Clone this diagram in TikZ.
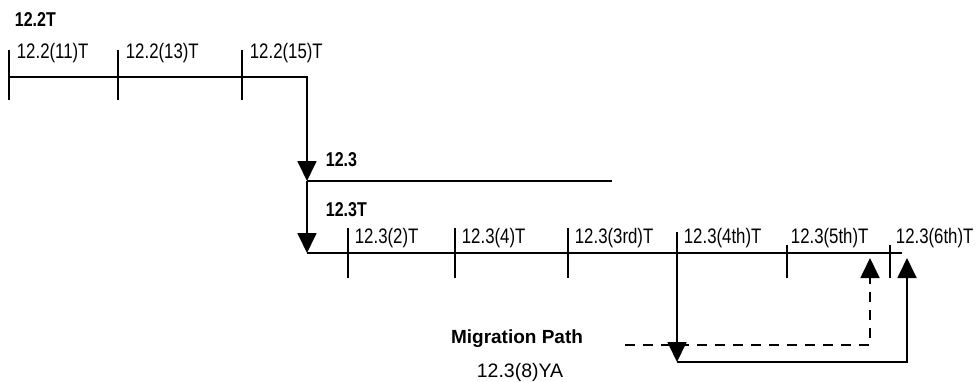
\documentclass[tikz,border=0pt]{standalone}
\usepackage{fontspec}
\setmainfont{Liberation Sans}[FakeStretch=0.8]
\newfontfamily\plainsans{Liberation Sans}
\usetikzlibrary{arrows.meta}
\tikzset{
	every release/.style={
		inner sep=0pt,
		anchor=base west,
		font=\fontsize{21}{24}\selectfont
	},
	every train/.style={
		inner sep=0pt,
		anchor=base west,
		font=\bfseries\fontsize{20}{24}\selectfont
	},
	path note/.style={
		inner sep=0pt,
		anchor=base,
		font=\plainsans\fontsize{19.5}{22}\selectfont
	},
}

\begin{document}
\begin{tikzpicture}[x=1pt, y=-1pt, line width=1.8pt, >={Triangle[width=19pt,length=20pt]}]

\useasboundingbox (0,0) rectangle (977,381);

\node [every train] (train-122T) at (14,26) {12.2T};
\node [every train] (train-123) at (325,166) {12.3};
\node [every train] (train-123T) at (325,216) {12.3T};

\coordinate (top-start) at (9,77);
\coordinate (top-end) at (307,77);
\coordinate (mid-start) at (307,181);
\coordinate (mid-end) at (612,181);
\coordinate (low-start) at (307,253);
\coordinate (low-end) at (902,253);

\draw [->] (top-start) -- (top-end) -- (mid-start);
\draw (mid-start) -- (mid-end);
\draw [->] (mid-start) -- (low-start);
\draw (low-start) -- (low-end);

\foreach \x/\l [count=\i] in {9/12.2(11)T, 118/12.2(13)T, 242/12.2(15)T} {
	\draw (\x,50) -- (\x,100);
	\node [every release] (top-\i) at (\x+7,58) {\l};
}

\foreach \x/\t/\lx/\n/\l in {348/228/354/2/12.3(2)T, 455/228/461/4/12.3(4)T, 568/228/574/3rd/12.3(3rd)T, 787/245/790/5th/12.3(5th)T, 890/245/895/6th/12.3(6th)T} {
	\draw (\x,\t) -- (\x,278);
	\node [every release] (low-\n) at (\lx,243) {\l};
}
\node [every release] (low-4th) at (683,243) {12.3(4th)T};

\coordinate (split-top) at (677,232);
\coordinate (split-bottom) at (677,362);
\coordinate (dash-start) at (625,345);
\coordinate (dash-turn) at (870,345);
\coordinate (dash-end) at (870,258);
\coordinate (solid-turn) at (907,362);
\coordinate (solid-end) at (907,258);

\draw [->, dash pattern=on 10pt off 8pt] (dash-start) -- (dash-turn) -- (dash-end);
\draw [->] (split-top) -- (split-bottom);
\draw [->] (split-bottom) -- (solid-turn) -- (solid-end);

\node [path note, font=\plainsans\bfseries\fontsize{19}{22}\selectfont] (path-title) at (517,343) {Migration Path};
\node [path note] (path-release) at (520,377) {12.3(8)YA};

\end{tikzpicture}
\end{document}
